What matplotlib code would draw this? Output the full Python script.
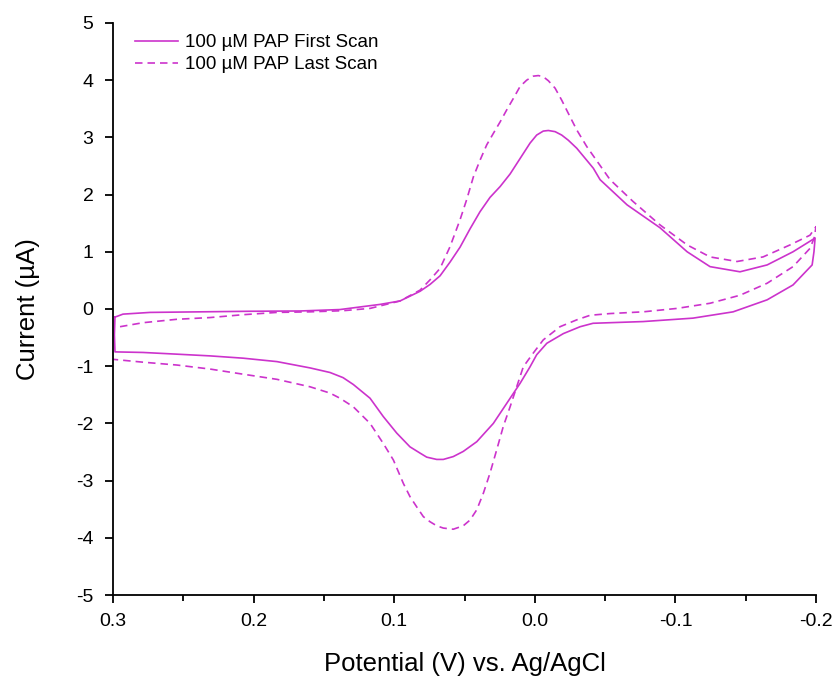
import matplotlib
matplotlib.use("Agg")
import matplotlib.pyplot as plt
from matplotlib.ticker import MultipleLocator, FormatStrFormatter

plt.rcParams['font.family'] = ['Liberation Sans', 'DejaVu Sans']
plt.rcParams['axes.unicode_minus'] = False

# First scan (closed loop): upper branch 0.3 -> -0.2, lower branch back to 0.3
first_v = [0.2986, 0.2972, 0.2929, 0.2737, 0.2381, 0.2026, 0.1670, 0.1386, 0.1101, 0.0959,
           0.0816, 0.0745, 0.0674, 0.0603, 0.0532, 0.0461, 0.0390, 0.0319, 0.0247, 0.0176,
           0.0105, 0.0034, -0.0013, -0.0060, -0.0096, -0.0144, -0.0191, -0.0238, -0.0298,
           -0.0369, -0.0416, -0.0464, -0.0656, -0.0890, -0.1083, -0.1246, -0.1459, -0.1652,
           -0.1836, -0.1993, -0.1985, -0.1972, -0.1836, -0.1652, -0.1410, -0.1125, -0.0770,
           -0.0414, -0.0322, -0.0203, -0.0085, -0.0013, 0.0034, 0.0105, 0.0200, 0.0295,
           0.0413, 0.0509, 0.0580, 0.0651, 0.0698, 0.0769, 0.0816, 0.0888, 0.0982, 0.1078,
           0.1172, 0.1291, 0.1364, 0.1457, 0.1599, 0.1834, 0.2075, 0.2310, 0.2545, 0.2787,
           0.2986, 0.2990, 0.2986]
first_i = [-0.14, -0.13, -0.09, -0.06, -0.05, -0.04, -0.035, -0.01, 0.08, 0.14,
           0.31, 0.43, 0.58, 0.82, 1.08, 1.40, 1.70, 1.95, 2.14, 2.36,
           2.63, 2.90, 3.04, 3.11, 3.12, 3.10, 3.04, 2.95, 2.81,
           2.60, 2.46, 2.26, 1.82, 1.42, 1.00, 0.74, 0.65, 0.77,
           1.00, 1.24, 1.00, 0.77, 0.42, 0.16, -0.05, -0.16, -0.22,
           -0.25, -0.31, -0.43, -0.60, -0.80, -1.01, -1.30, -1.65, -2.00,
           -2.32, -2.49, -2.58, -2.63, -2.63, -2.59, -2.52, -2.41, -2.17, -1.88,
           -1.56, -1.32, -1.20, -1.11, -1.03, -0.92, -0.86, -0.82, -0.79, -0.76,
           -0.75, -0.45, -0.14]

# Last scan: upper branch 0.3 -> -0.2, lower branch back to 0.3
last_v = [0.2950, 0.2787, 0.2545, 0.2310, 0.2075, 0.1834, 0.1599, 0.1364, 0.1172, 0.0959,
          0.0816, 0.0745, 0.0674, 0.0603, 0.0532, 0.0485, 0.0437, 0.0390, 0.0342, 0.0295,
          0.0247, 0.0200, 0.0153, 0.0105, 0.0058, 0.0011, -0.0025, -0.0060, -0.0096,
          -0.0144, -0.0191, -0.0238, -0.0298, -0.0369, -0.0535, -0.0698, -0.0890, -0.1083,
          -0.1246, -0.1438, -0.1623, -0.1815, -0.1957, -0.2000,
          -0.1986, -0.1957, -0.1836, -0.1652, -0.1459, -0.1246, -0.1011, -0.0770, -0.0535,
          -0.0393, -0.0298, -0.0179, -0.0060, 0.0011, 0.0082, 0.0129, 0.0176, 0.0224,
          0.0271, 0.0319, 0.0366, 0.0413, 0.0461, 0.0509, 0.0580, 0.0651, 0.0698, 0.0745,
          0.0793, 0.0840, 0.0888, 0.0935, 0.1006, 0.1078, 0.1172, 0.1291, 0.1386, 0.1457,
          0.1599, 0.1834, 0.2075, 0.2310, 0.2545, 0.2787, 0.3000]
last_i = [-0.31, -0.24, -0.18, -0.15, -0.10, -0.06, -0.05, -0.03, 0.01, 0.14,
          0.33, 0.51, 0.71, 1.09, 1.56, 1.91, 2.31, 2.60, 2.87, 3.07,
          3.27, 3.48, 3.68, 3.89, 4.00, 4.07, 4.08, 4.06, 3.99,
          3.86, 3.65, 3.42, 3.13, 2.84, 2.26, 1.88, 1.47, 1.12,
          0.91, 0.83, 0.91, 1.12, 1.29, 1.44,
          1.24, 1.06, 0.74, 0.45, 0.24, 0.10, 0.01, -0.05, -0.08,
          -0.11, -0.19, -0.31, -0.54, -0.77, -1.01, -1.36, -1.71, -2.05,
          -2.46, -2.87, -3.22, -3.51, -3.69, -3.79, -3.85, -3.83, -3.79, -3.72,
          -3.63, -3.46, -3.28, -3.05, -2.64, -2.35, -2.00, -1.71, -1.56, -1.47,
          -1.36, -1.23, -1.14, -1.05, -0.98, -0.93, -0.88]

labels = ["100 µM PAP First Scan", "100 µM PAP Last Scan"]
color = "#CC33CC"

fig = plt.figure(figsize=(8.37, 6.79), dpi=100)
ax = fig.add_axes([0.135, 0.1237, 0.84, 0.8425])
ax.plot(first_v, first_i, color=color, lw=1.2, label=labels[0], solid_joinstyle='round')
ln, = ax.plot(last_v, last_i, color=color, lw=1.2, label=labels[1])
ln.set_dashes([4.5, 3])

ax.set_xlim(0.3, -0.2)
ax.set_ylim(-5, 5)
ax.xaxis.set_major_locator(MultipleLocator(0.1))
ax.xaxis.set_minor_locator(MultipleLocator(0.05))
ax.yaxis.set_major_locator(MultipleLocator(1))
ax.xaxis.set_major_formatter(FormatStrFormatter('%.1f'))
ax.yaxis.set_major_formatter(FormatStrFormatter('%d'))

for s in ['top', 'right']:
    ax.spines[s].set_visible(False)
for s in ['left', 'bottom']:
    ax.spines[s].set_linewidth(1.3)
ax.tick_params(which='major', direction='out', length=6, width=1.3, labelsize=14)
ax.tick_params(which='minor', direction='out', length=4, width=1.3)
ax.tick_params(axis='x', which='major', pad=7)
ax.tick_params(axis='y', which='major', pad=8)
ax.set_xlabel("Potential (V) vs. Ag/AgCl", fontsize=18.5, labelpad=16)
ax.set_ylabel("Current (µA)", fontsize=18.5, labelpad=26)

ax.legend(loc='upper left', frameon=False, fontsize=13.5, handlelength=2.3,
          handletextpad=0.4, borderaxespad=0.2, bbox_to_anchor=(0.015, 1.0),
          labelspacing=0.25)

fig.savefig("out.png", dpi=100)
